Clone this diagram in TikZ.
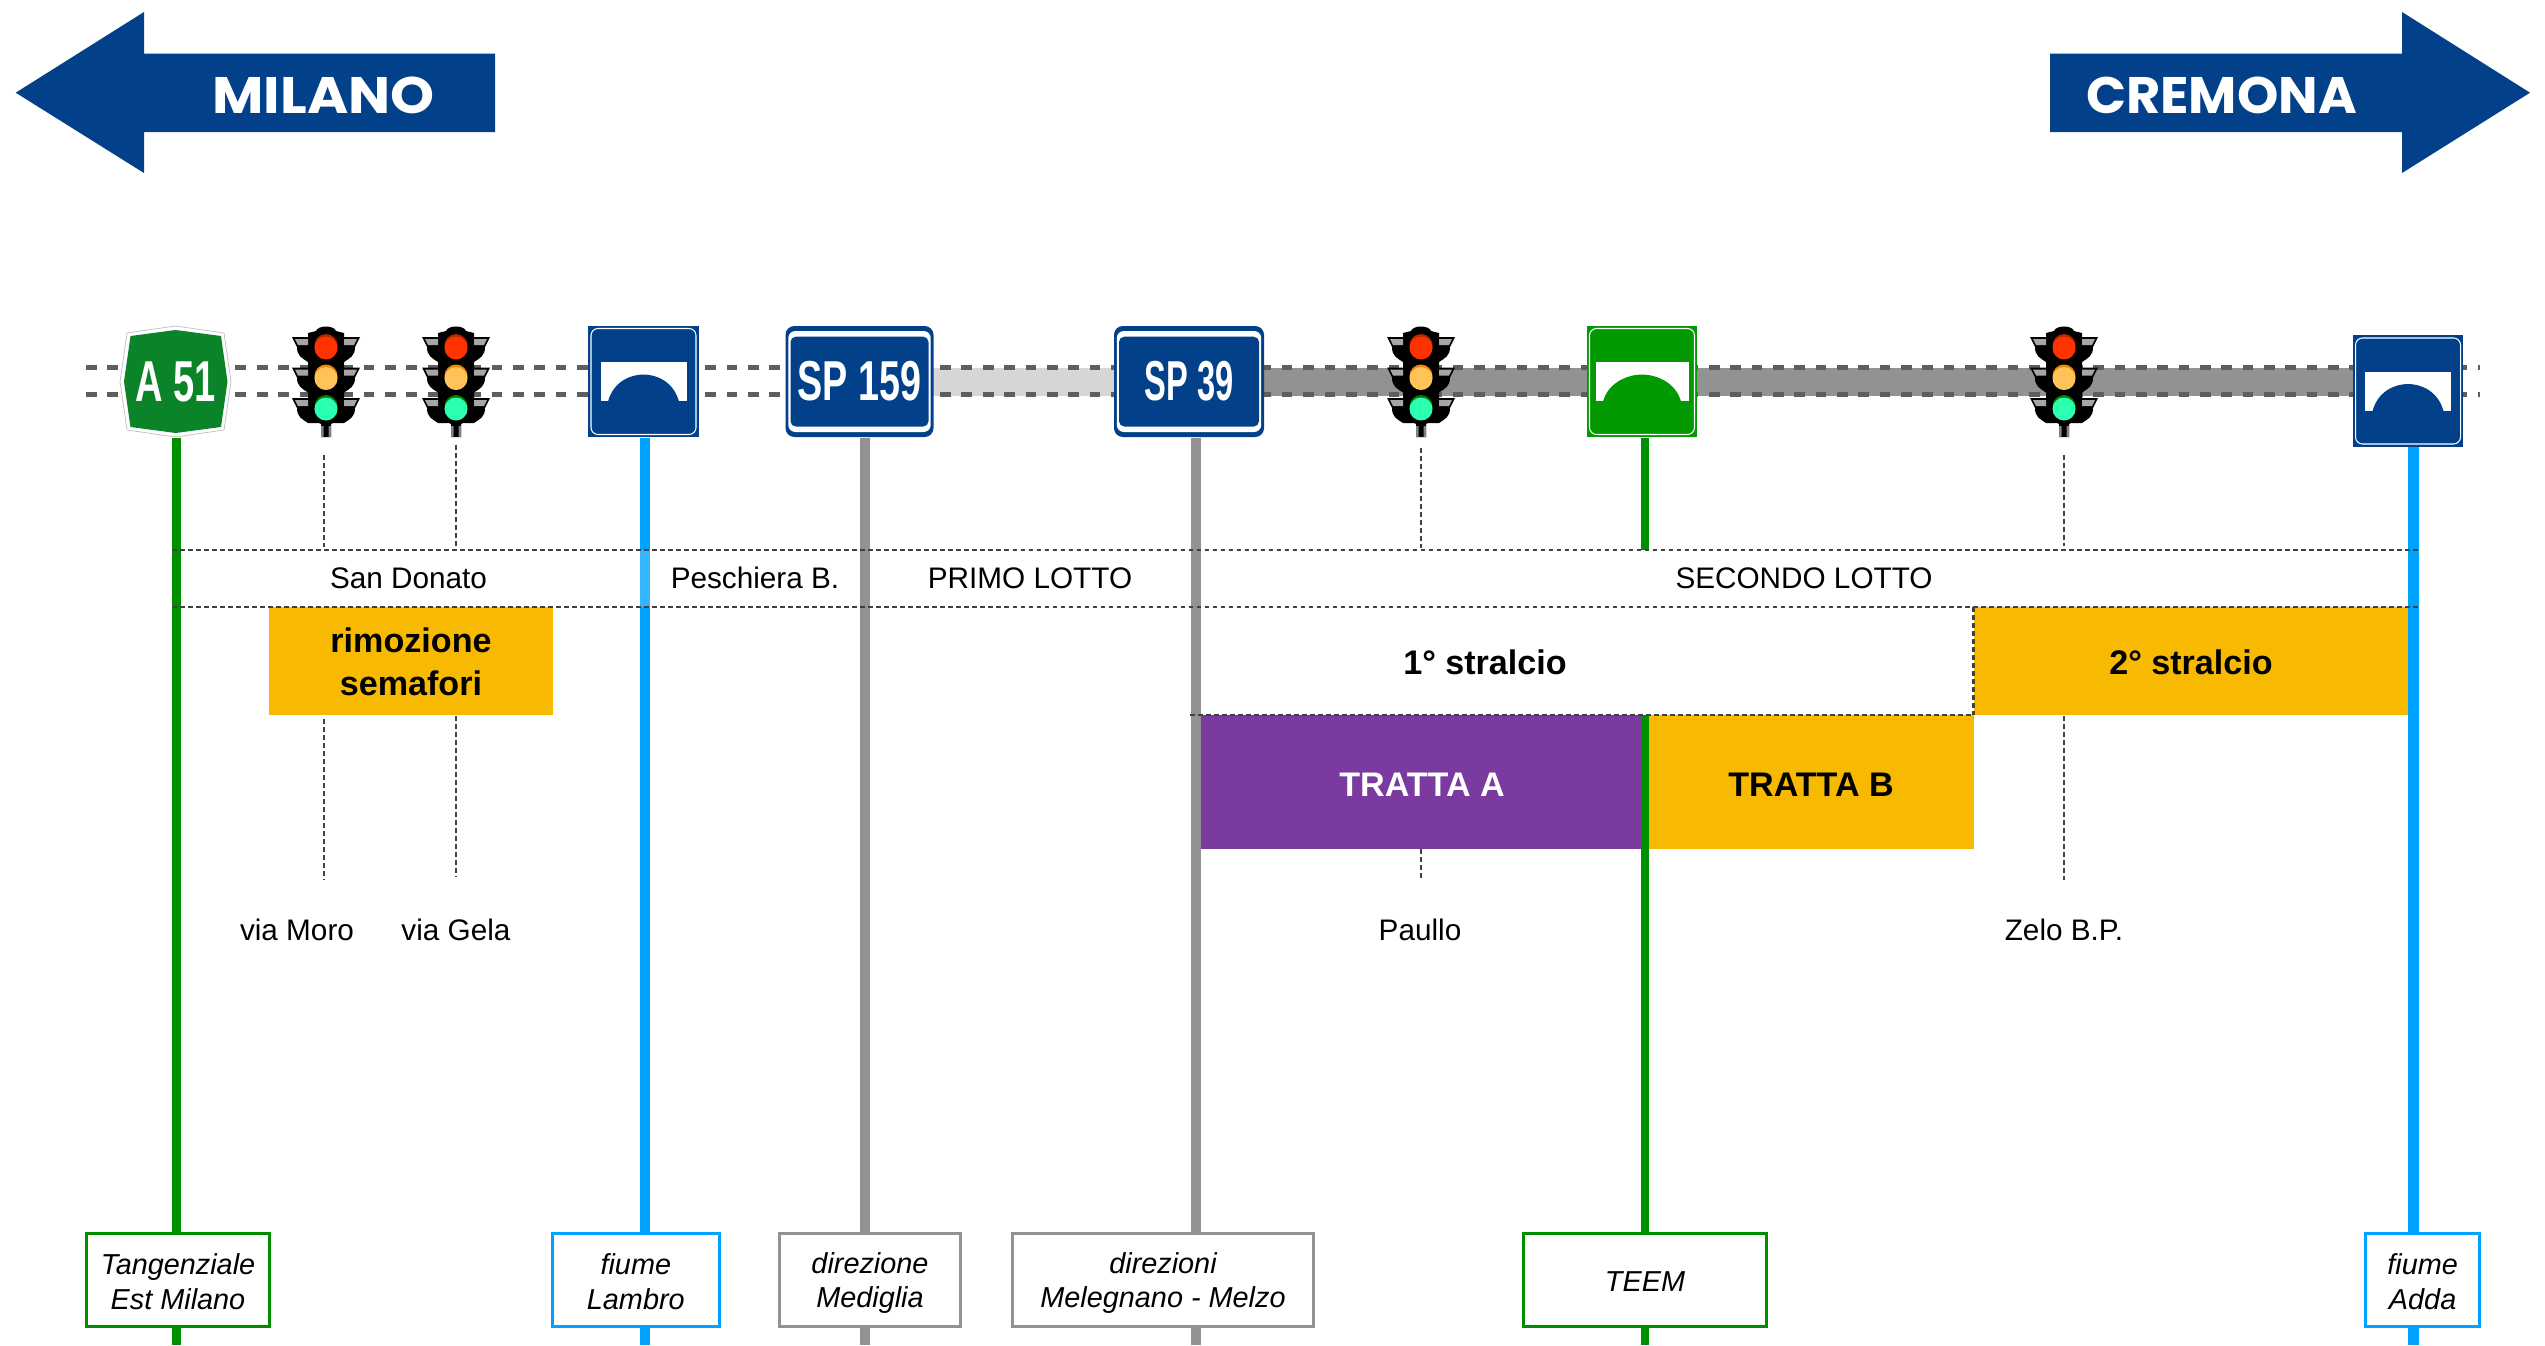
\documentclass[tikz,border=0pt]{standalone}
\usepackage{fontspec}
\usepackage{graphicx}
\setmainfont{Liberation Sans}
\newfontfamily\frecciafont{Poppins}
\usetikzlibrary{calc}
\definecolor{bluAuto}{HTML}{03408A}
\definecolor{verdeAuto}{HTML}{0B8429}
\definecolor{verdePonte}{HTML}{029A00}
\definecolor{verdeLinea}{HTML}{008F00}
\definecolor{bluLinea}{HTML}{00A2FF}
\definecolor{grigioLinea}{HTML}{929292}
\definecolor{grigioChiaro}{HTML}{D6D6D6}
\definecolor{grigioTratti}{HTML}{5E5E5E}
\definecolor{arancio}{HTML}{F7BA00}
\definecolor{viola}{HTML}{7A3A9F}
\definecolor{rossoLuce}{HTML}{FF3300}
\definecolor{rossoScuro}{HTML}{B02A00}
\definecolor{gialloLuce}{HTML}{FFC35A}
\definecolor{gialloScuro}{HTML}{F08A00}
\definecolor{verdeLuce}{HTML}{2BFFB0}
\definecolor{verdeScuro}{HTML}{0A7A00}
\newcommand{\riga}{\rule[-1.05pt]{0pt}{8.9pt}}
\tikzset{
	testo/.style={inner sep=0pt, font=\fontsize{8.45}{10}\selectfont},
	forte/.style={inner sep=0pt, align=center, font=\fontsize{9.7}{12.2}\selectfont\bfseries},
	freccia/.style={inner sep=0pt, text=white, font=\fontsize{14.6}{16}\frecciafont\bfseries},
	targa/.style={inner sep=0pt, minimum height=1.11cm, text=white, font=\fontsize{16}{18}\selectfont\bfseries},
	dida/.style={fill=white, draw=#1, line width=.03cm, inner sep=0pt, align=center, minimum height=.92cm, font=\fontsize{8.2}{9.7}\selectfont\itshape},
	palo/.style={line width=#1},
	puntini/.style={draw=black!75, line width=.02cm, dash pattern=on .05cm off .03cm},
	lotto/.style={draw=black!75, line width=.022cm, dash pattern=on .045cm off .035cm},
	tratti/.style={draw=grigioTratti, line width=.05cm, dash pattern=on .1067cm off .1067cm},
}
% traffic light: name, x
\newcommand{\semaforo}[2]{
	\node[inner sep=0pt, minimum width=.68cm, minimum height=1.11cm] (#1) at (#2,381.5) {};
	\begin{scope}[shift={(#2,326)}]
		\fill[black] (-18,12) -- (-18,7) -- (-10,5) .. controls (-8,-1) and (8,-1) .. (10,5) -- (18,7) -- (18,88) -- (12,94) -- (5,98) -- (5,111) -- (-5,111) -- (-5,98) -- (-12,94) -- (-18,88) -- cycle;
		\fill[gray] (-2.5,100) rectangle (-5,111) (2.5,100) rectangle (5,111);
		\foreach \dy/\scuro/\luce in {0/rossoScuro/rossoLuce, 30.5/gialloScuro/gialloLuce, 61/verdeScuro/verdeLuce}{
			\fill[black] (-34,11+\dy) -- (34,11+\dy) -- (29,21+\dy) .. controls (29,30+\dy) and (24,32+\dy) .. (18,36+\dy) -- (-18,36+\dy) .. controls (-24,32+\dy) and (-29,30+\dy) .. (-29,21+\dy) -- cycle;
			\fill[gray!70] (-31,13+\dy) -- (-18,13+\dy) -- (-18,19+\dy) -- (-28,19+\dy) -- cycle;
			\fill[gray!70] (31,13+\dy) -- (18,13+\dy) -- (18,19+\dy) -- (28,19+\dy) -- cycle;
			\fill[\scuro] (0,19.5+\dy) circle[radius=.115cm];
			\fill[\luce] (0,22+\dy) circle[radius=.115cm];
		}
	\end{scope}
}
% bridge sign: name, x, y, colour, half width of the white part
\newcommand{\ponte}[5]{
	\node[fill=#4, inner sep=0pt, minimum width=1.1cm, minimum height=1.11cm] (#1) at (#2,#3) {};
	\begin{scope}[shift={(#2,#3)}]
		\draw[white, line width=.3pt, rounded corners=2pt] (-52.5,-53) rectangle (52.5,53);
		\fill[white] (-#5,-19.5) rectangle (#5,19.5);
		\fill[#4] (-#5+7.5,20) .. controls (-#5+13,0) and (-13,-7) .. (0,-7) .. controls (13,-7) and (#5-13,0) .. (#5-7.5,20) -- cycle;
	\end{scope}
}
% road sign: name, x, half width, text scale, text
\newcommand{\targaSP}[5]{
	\fill[bluAuto, rounded corners=2.5pt] (#2-#3,326) rectangle (#2+#3,437);
	\fill[white, rounded corners=2pt] (#2-#3+2.8,331) rectangle (#2+#3-2.8,432);
	\fill[bluAuto, rounded corners=1.5pt] (#2-#3+5,336.7) rectangle (#2+#3-5,426.5);
	\node[targa] (#1) at (#2,381.5) {\raisebox{-.4pt}{\scalebox{#4}[1]{#5}}};
}
\begin{document}
\begin{tikzpicture}[x=.01cm, y=-.01cm]
	\useasboundingbox (0,0) rectangle (2545,1345);

	% Draw the two direction arrows
	\fill[bluAuto] (15.7,92.7) -- (144,12) -- (144,53.5) -- (495,53.5) -- (495,132) -- (144,132) -- (144,173) -- cycle;
	\node[freccia] (milano) at (323.5,95) {\scalebox{1.09}[1]{MILANO}};
	\fill[bluAuto] (2530,92.7) -- (2402,12) -- (2402,53.5) -- (2050,53.5) -- (2050,132) -- (2402,132) -- (2402,173) -- cycle;
	\node[freccia] (cremona) at (2221.5,95) {\scalebox{1.025}[1]{CREMONA}};

	% Draw the road
	\fill[grigioChiaro] (933,368) rectangle (1114,396);
	\fill[grigioLinea] (1264,368) rectangle (2355,396);
	\draw[tratti] (86,367.7) -- (2480,367.7);
	\draw[tratti] (86,394) -- (2480,394);

	% Draw the coloured blocks
	\fill[arancio] (269,607) rectangle (553,715);
	\fill[arancio] (1973.5,607) rectangle (2408,715);
	\fill[viola] (1200,715) rectangle (1644,849);
	\fill[arancio] (1649,715) rectangle (1973.5,849);
	\node[forte] (rimozione) at (411,661.5) {rimozione\\semafori};
	\node[forte] (stralcioA) at (1485,662) {1° stralcio};
	\node[forte] (stralcioB) at (2191,662) {2° stralcio};
	\node[forte, text=white] (trattaA) at (1422,785) {TRATTA A};
	\node[forte] (trattaB) at (1811,785) {TRATTA B};

	% Draw the signs
	\fill[white, draw=gray!50, line width=.2pt] (175.6,326) -- (224,333)  -- (231,381.7) -- (224,430) -- (175.6,437) -- (127,430) -- (120,381.7) -- (127,333) -- cycle;
	\fill[verdeAuto] (175.6,330) -- (221,336) -- (227.5,381.7) -- (221,427) -- (175.6,433) -- (130.5,427) -- (124,381.7) -- (130.5,336) -- cycle;
	\node[inner sep=0pt, minimum width=1.1cm, minimum height=1.11cm, text=white, font=\fontsize{16.4}{18}\selectfont\bfseries] (a51) at (175.6,381.5) {\scalebox{.66}[1]{A 51}};
	\targaSP{sp159}{859.5}{74}{.67}{SP 159}
	\targaSP{sp39}{1189}{75}{.58}{SP 39}
	\ponte{lambro}{643.5}{381.5}{bluAuto}{43}
	\ponte{teem}{1642}{381.5}{verdePonte}{46.5}
	\ponte{adda}{2408}{391}{bluAuto}{43}
	\semaforo{semA}{326}
	\semaforo{semB}{456}
	\semaforo{semC}{1421}
	\semaforo{semD}{2064}

	% Draw the free ends
	\coordinate (fondoA) at (176.5,1345);
	\coordinate (fondoB) at (645,1345);
	\coordinate (fondoC) at (865,1345);
	\coordinate (fondoD) at (1195.5,1345);
	\coordinate (fondoE) at (1644.5,1345);
	\coordinate (fondoF) at (2413.5,1345);
	\coordinate (lottoE) at (1644.5,550);
	\coordinate (primoE) at (1644.5,715);
	\coordinate (lottoB) at (645,550);
	\coordinate (bordoB) at (645,607);
	\coordinate (lottoSx) at (172,550);
	\coordinate (lottoDx) at (2419,550);
	\coordinate (bordoSx) at (172,607);
	\coordinate (bordoDx) at (2419,607);
	\coordinate (trattoSx) at (1190,715);
	\coordinate (trattoDx) at (1973.5,715);
	\coordinate (spigolo) at (1973.5,607);

	% Draw the vertical lines
	\draw[palo=.08cm, verdeLinea] (a51.south -| fondoA) -- (fondoA);
	\draw[palo=.105cm, bluLinea] (lambro.south -| fondoB) -- (fondoB);
	\draw[palo=.105cm, bluLinea!80!white] (lottoB) -- (bordoB);
	\draw[palo=.1cm, grigioLinea] (sp159.south -| fondoC) -- (fondoC);
	\draw[palo=.1cm, grigioLinea] (sp39.south -| fondoD) -- (fondoD);
	\draw[palo=.08cm, verdeLinea] (teem.south -| lottoE) -- (lottoE);
	\draw[palo=.08cm, verdeLinea] (primoE) -- (fondoE);
	\draw[palo=.105cm, bluLinea] (adda.south -| fondoF) -- (fondoF);

	% Draw the dotted lines
	\draw[lotto] (lottoSx) -- (lottoDx);
	\draw[lotto] (bordoSx) -- (bordoDx);
	\draw[lotto] (trattoSx) -- (trattoDx);
	\draw[lotto] (spigolo) -- (trattoDx);

	% Draw the labels of the strip
	\node[testo] (donato) at (408.5,578) {San Donato};
	\node[testo] (peschiera) at (755,578) {Peschiera B.};
	\node[testo] (primo) at (1030,578) {PRIMO LOTTO};
	\node[testo] (secondo) at (1804,578) {SECONDO LOTTO};

	% Draw the labels of the crossings
	\node[testo] (moro) at (297,930) {via Moro};
	\node[testo] (gela) at (456,930) {via Gela};
	\node[testo] (paullo) at (1420,930) {Paullo};
	\node[testo] (zelo) at (2064,930) {Zelo B.P.};

	\coordinate (suA) at (324,547);
	\coordinate (suB) at (456,548);
	\coordinate (suC) at (1421,548);
	\coordinate (suD) at (2064,546);
	\draw[puntini, shorten <=.17cm] (semA.south -| suA) -- (suA);
	\draw[puntini, shorten <=.07cm] (semB.south -| suB) -- (suB);
	\draw[puntini, shorten <=.1cm] (semC.south -| suC) -- (suC);
	\draw[puntini, shorten <=.17cm] (semD.south -| suD) -- (suD);

	\coordinate (giuA) at (324,719);
	\coordinate (giuB) at (456,716);
	\coordinate (giuC) at (1421,849);
	\coordinate (giuD) at (2064,716);
	\draw[puntini, shorten >=.38cm] (giuA) -- (moro.north -| giuA);
	\draw[puntini, shorten >=.41cm] (giuB) -- (gela.north);
	\draw[puntini, shorten >=.4cm] (giuC) -- (paullo.north -| giuC);
	\draw[puntini, shorten >=.38cm] (giuD) -- (zelo.north);

	% Draw the boxes at the bottom
	\node[dida=verdeLinea, minimum width=1.835cm] (tangenziale) at (178,1280) {\riga Tangenziale\\\riga Est Milano};
	\node[dida=bluLinea, minimum width=1.665cm] (fiumeL) at (635.8,1280) {\riga fiume\\\riga Lambro};
	\node[dida=grigioLinea, minimum width=1.808cm] (medigliaBox) at (870,1280) {\riga direzione\\\riga Mediglia};
	\node[dida=grigioLinea, minimum width=3.017cm] (melzoBox) at (1163,1280) {\riga direzioni\\\riga Melegnano - Melzo};
	\node[dida=verdeLinea, minimum width=2.427cm] (teemBox) at (1645,1280) {\riga TEEM};
	\node[dida=bluLinea, minimum width=1.14cm] (fiumeA) at (2422.6,1280) {\riga fiume\\\riga Adda};
\end{tikzpicture}
\end{document}
